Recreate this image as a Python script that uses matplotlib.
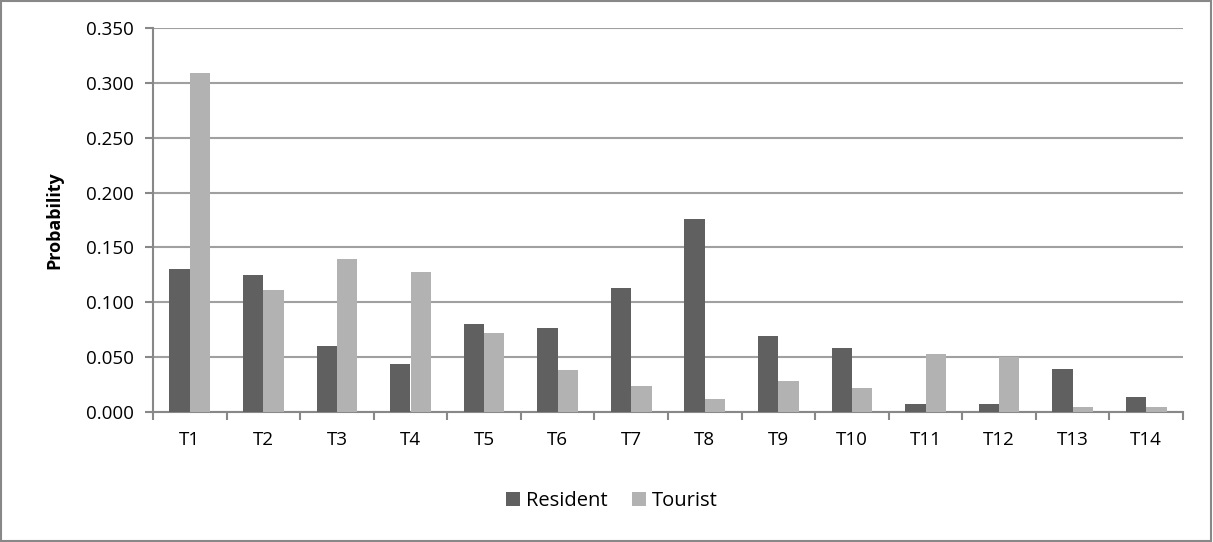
import numpy as np
from matplotlib import pyplot as plt
from matplotlib.patches import Rectangle

categories = ['T1', 'T2', 'T3', 'T4', 'T5', 'T6', 'T7', 'T8', 'T9', 'T10', 'T11', 'T12', 'T13', 'T14']
resident = [0.130, 0.125, 0.060, 0.044, 0.080, 0.077, 0.113, 0.176, 0.069, 0.058, 0.007, 0.007, 0.039, 0.014]
tourist = [0.309, 0.111, 0.139, 0.128, 0.072, 0.038, 0.024, 0.012, 0.028, 0.022, 0.053, 0.050, 0.005, 0.005]
yticks = [0.0, 0.05, 0.1, 0.15, 0.2, 0.25, 0.3, 0.35]

plt.rcParams['font.family'] = ['Open Sans', 'DejaVu Sans']

fig = plt.figure(figsize=(12.13, 5.42), dpi=100)
ax = fig.add_axes([153 / 1213, (542 - 412) / 542, 1030 / 1213, 384 / 542])

x = np.arange(len(categories))
w = 0.276
ax.bar(x - w / 2, resident, w, color='#606060', label='Resident', zorder=3)
ax.bar(x + w / 2, tourist, w, color='#b2b2b2', label='Tourist', zorder=3)

ax.set_xlim(-0.5, len(categories) - 0.5)
ax.set_ylim(0, 0.35)
ax.set_yticks(yticks)
ax.set_yticklabels(['{:.3f}'.format(v) for v in yticks], fontsize=13.5)
ax.set_xticks(x)
ax.set_xticklabels(categories, fontsize=13.5)
ax.set_xticks(np.arange(-0.5, len(categories)), minor=True)
ax.tick_params(axis='x', which='major', length=0, pad=14)
ax.tick_params(axis='x', which='minor', length=6, color='#888888', width=1.5, direction='out')
ax.tick_params(axis='y', length=6, color='#888888', width=1.5, pad=8)

ax.grid(axis='y', color='#a0a0a0', linewidth=1.5, zorder=0)
for s in ['top', 'right']:
    ax.spines[s].set_visible(False)
for s in ['left', 'bottom']:
    ax.spines[s].set_color('#888888')
    ax.spines[s].set_linewidth(1.5)

ax.set_ylabel('Probability', fontsize=13, fontweight='bold', labelpad=16)

fig.legend(loc='center', bbox_to_anchor=(612 / 1213, 1 - 501 / 542), ncol=2, frameon=False,
           fontsize=14.5, handlelength=0.7, handleheight=0.7, handletextpad=0.3, columnspacing=1.2)

fig.patches.append(Rectangle((0.001, 0.002), 0.997, 0.996, transform=fig.transFigure,
                             fill=False, edgecolor='#888888', linewidth=1.5))

fig.savefig('out.png', dpi=100)
